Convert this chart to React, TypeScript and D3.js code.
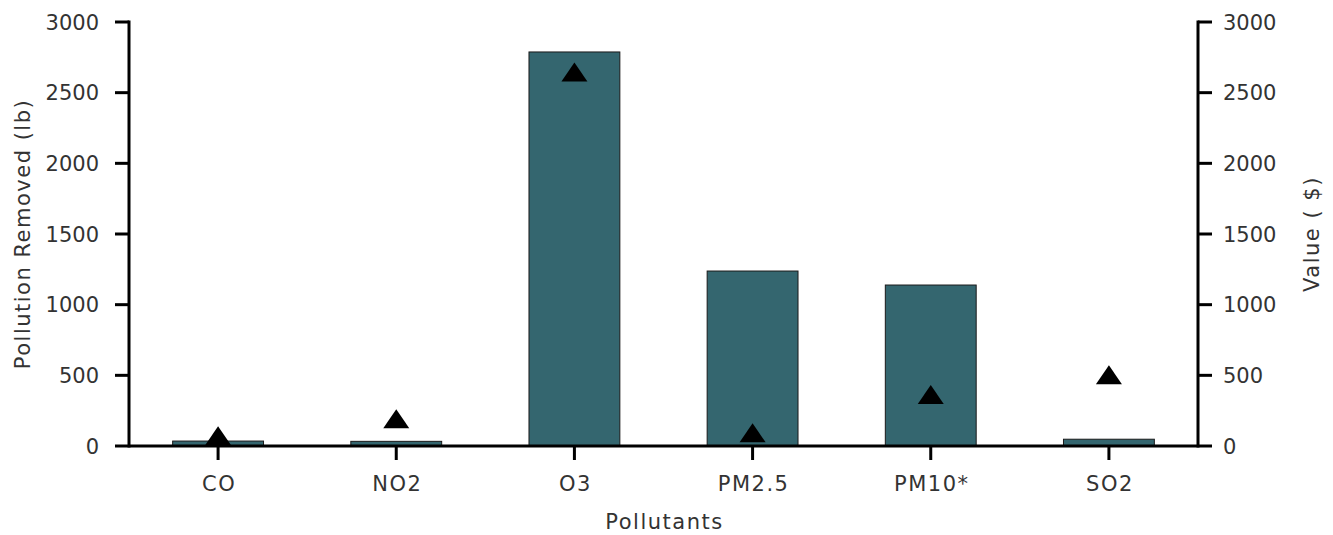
import React from "react";
import * as d3 from "d3";

const categories = ["CO", "NO2", "O3", "PM2.5", "PM10*", "SO2"];
const removedLb = [35, 33, 2788, 1238, 1139, 48];
const valueUsd = [72, 192, 2646, 94, 364, 504];
const yTicks = [0, 500, 1000, 1500, 2000, 2500, 3000];

const W = 1333;
const H = 535;
const M = { left: 129, right: 135, top: 22, bottom: 89 };
const FONT = "'DejaVu Sans', Verdana, sans-serif";
const TEXT = "#333";
const FS = 21;

export default function App() {
  const x = d3
    .scaleBand<string>()
    .domain(categories)
    .range([M.left, W - M.right])
    .paddingInner(0.49)
    .paddingOuter(0.245);
  const yL = d3.scaleLinear().domain([0, 3000]).range([H - M.bottom, M.top]);
  const yR = d3.scaleLinear().domain([0, 3000]).range([H - M.bottom, M.top]);
  const y0 = yL(0);
  const xr = W - M.right;
  const triW = 13;
  const triH = 9.5;
  const tri = (cx: number, cy: number) => {
    const p = d3.path();
    p.moveTo(cx, cy - triH);
    p.lineTo(cx + triW, cy + triH);
    p.lineTo(cx - triW, cy + triH);
    p.closePath();
    return p.toString();
  };
  const mid = (M.top + y0) / 2;
  return (
    <div style={{ position: "absolute", left: 0, top: 0 }}>
      <svg width={W} height={H} style={{ display: "block" }} fontFamily={FONT}>
        <rect width={W} height={H} fill="#fff" />
        {categories.map((c, i) => (
          <rect
            key={c}
            x={x(c)!}
            y={yL(removedLb[i])}
            width={x.bandwidth()}
            height={y0 - yL(removedLb[i])}
            fill="#34666f"
            stroke="#1a1a1a"
            strokeWidth={1}
          />
        ))}
        {categories.map((c, i) => (
          <path key={"t" + c} d={tri(x(c)! + x.bandwidth() / 2, yR(valueUsd[i]))} fill="#000" />
        ))}
        {/* left axis */}
        <line x1={M.left} x2={M.left} y1={M.top - 1.5} y2={y0 + 1.5} stroke="#000" strokeWidth={3} />
        {yTicks.map((t) => (
          <g key={"l" + t}>
            <line x1={M.left - 14} x2={M.left} y1={yL(t)} y2={yL(t)} stroke="#000" strokeWidth={3} />
            <text x={M.left - 30} y={yL(t)} dy="0.36em" textAnchor="end" fontSize={FS} fill={TEXT}>
              {t}
            </text>
          </g>
        ))}
        {/* right axis */}
        <line x1={xr} x2={xr} y1={M.top - 1.5} y2={y0 + 1.5} stroke="#000" strokeWidth={3} />
        {yTicks.map((t) => (
          <g key={"r" + t}>
            <line x1={xr} x2={xr + 14} y1={yR(t)} y2={yR(t)} stroke="#000" strokeWidth={3} />
            <text x={xr + 25} y={yR(t)} dy="0.36em" textAnchor="start" fontSize={FS} fill={TEXT}>
              {t}
            </text>
          </g>
        ))}
        {/* x axis */}
        <line x1={M.left} x2={xr} y1={y0} y2={y0} stroke="#000" strokeWidth={3} />
        {categories.map((c) => {
          const cx = x(c)! + x.bandwidth() / 2;
          return (
            <g key={"x" + c}>
              <line x1={cx} x2={cx} y1={y0} y2={y0 + 14} stroke="#000" strokeWidth={3} />
              <text x={cx + 1} y={483} dy="0.36em" textAnchor="middle" fontSize={FS} fill={TEXT} letterSpacing={1.5}>
                {c}
              </text>
            </g>
          );
        })}
        <text x={(M.left + xr) / 2 + 1} y={521} dy="0.36em" textAnchor="middle" fontSize={FS} fill={TEXT} letterSpacing={1.5}>
          Pollutants
        </text>
        <text
          transform={`translate(22,${mid}) rotate(-90)`}
          dy="0.36em"
          textAnchor="middle"
          fontSize={FS}
          fill={TEXT}
          letterSpacing={1.5}
        >
          Pollution Removed (lb)
        </text>
        <text
          transform={`translate(1311,${mid}) rotate(-90)`}
          dy="0.36em"
          textAnchor="middle"
          fontSize={FS}
          fill={TEXT}
          letterSpacing={1.5}
        >
          Value ( $)
        </text>
      </svg>
    </div>
  );
}
